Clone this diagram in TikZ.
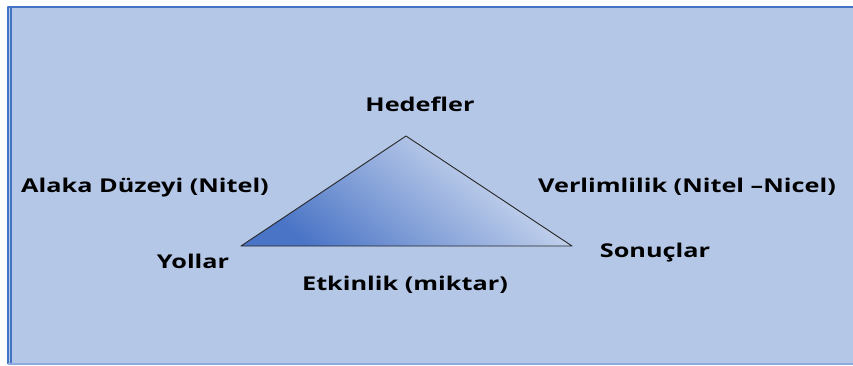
\documentclass[tikz,border=0pt]{standalone}
\usepackage{fontspec}
\setmainfont{Open Sans}
\definecolor{bgblue}{HTML}{B4C7E7}
\definecolor{frameblue}{HTML}{4472C4}
\definecolor{darkblue}{HTML}{4A74C6}
\definecolor{paleblue}{HTML}{DCE5F4}
\begin{document}
\begin{tikzpicture}[x=1pt,y=-1pt,line join=round,font=\bfseries\fontsize{19}{21}\selectfont]
			\tikzset{every node/.style={inner sep=0pt,text=black,xscale=1.33}}
			\useasboundingbox (0,0) rectangle (853,365);
			% background panel
			\fill[bgblue] (8,7) rectangle (856,365);
			\draw[frameblue,line width=2pt] (8,364) -- (8,7) -- (856,7);
			\draw[frameblue,line width=2pt] (11,7) -- (11,364);
			\draw[frameblue!60,line width=1.5pt] (8,364) -- (856,364);
			% triangle
			\coordinate (top) at (406,136);
			\coordinate (left) at (241,246);
			\coordinate (right) at (572,246);
			\shade[top color=paleblue,bottom color=darkblue,shading angle=-40] (top)--(left)--(right)--cycle;
			\draw[black!85,line width=0.9pt] (top)--(left)--(right)--cycle;
			% labels
			\node (hedef) at (420,104) {Hedefler};
			\node (alaka) at (145,188) {Alaka Düzeyi (Nitel)};
			\node (yollar) at (193,261) {Yollar};
			\node (verim) at (687,187) {Verlimlilik (Nitel –Nicel)};
			\node (sonuc) at (655,253) {Sonuçlar};
			\node (etkin) at (405,285) {Etkinlik (miktar)};
		\end{tikzpicture}
\end{document}
